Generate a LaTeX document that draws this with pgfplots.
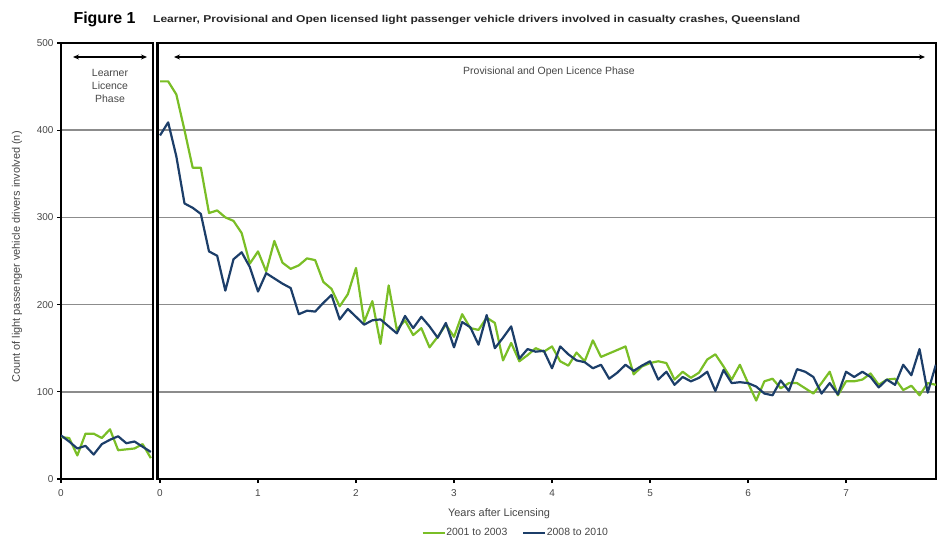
\documentclass[border=0pt]{standalone}
\usepackage{pgfplots}
\usepackage{pgfplotstable}
\pgfplotsset{compat=1.18}
\usepackage{fontspec}
\setmainfont{Liberation Sans}
\usepackage{graphicx}
\usetikzlibrary{arrows.meta}
\definecolor{gA}{RGB}{122,190,38}
\definecolor{bA}{RGB}{28,62,105}
\definecolor{txt}{RGB}{70,70,70}
\definecolor{grd}{RGB}{140,140,140}

\pgfplotstableread{
m g b
0 48 50
1 47 43
2 27 35
3 52 38
4 52 28
5 47 40
6 57 45
7 33 49
8 34 41
9 35 43
10 40 37
11 24 31
}\learner

\pgfplotstableread{
m g b
0 456 394
1 456 409
2 441 370
3 400 316
4 357 311
5 357 304
6 305 261
7 308 256
8 300 216
9 296 252
10 282 260
11 247 243
12 261 215
13 238 236
14 273 230
15 248 224
16 241 219
17 245 189
18 253 193
19 251 192
20 226 202
21 218 211
22 198 183
23 212 195
24 242 186
25 180 177
26 204 182
27 155 183
28 222 175
29 171 167
30 182 187
31 165 173
32 173 186
33 151 175
34 163 162
35 177 179
36 163 151
37 189 180
38 173 174
39 171 154
40 185 188
41 179 150
42 136 162
43 156 175
44 135 138
45 142 149
46 150 146
47 146 147
48 152 127
49 135 152
50 130 143
51 145 136
52 135 134
53 159 127
54 140 131
55 144 115
56 148 122
57 152 131
58 120 124
59 129 130
60 133 135
61 135 114
62 133 123
63 114 108
64 123 117
65 116 112
66 122 116
67 137 123
68 143 101
69 129 125
70 114 110
71 131 111
72 110 110
73 90 106
74 112 98
75 115 96
76 104 113
77 110 101
78 110 126
79 104 123
80 98 117
81 110 98
82 123 110
83 96 97
84 112 123
85 112 117
86 114 123
87 121 117
88 108 105
89 114 114
90 115 108
91 102 131
92 107 119
93 96 149
94 110 99
95 108 131
}\open

\pgfplotsset{
  panel/.style={
    scale only axis, anchor=south west,
    height=436bp,
    ymin=0, ymax=500, ytick={0,100,...,500},
    ymajorgrids, grid style={color=grd, line width=1.6bp},
    axis line style={line width=2.2bp, black},
    tick align=outside, major tick length=4bp,
    tick style={black, line width=1.2bp},
    xtick pos=bottom, ytick pos=left,
    tick label style={font=\fontsize{10}{12}\selectfont, text=txt},
    xticklabel style={yshift=-3bp},
    /pgf/number format/assume math mode=true,
    every axis plot/.append style={line width=2.2bp, line join=round, mark=none},
  }
}

\begin{document}
\begin{tikzpicture}
\useasboundingbox (0,0) rectangle (944bp,541bp);

% Learner panel
\begin{axis}[panel, at={(61bp,62bp)}, width=92bp,
  xmin=0, xmax=0.939, xtick={0}]
  \addplot[gA] table[x expr=\thisrow{m}/12, y=g] {\learner};
  \addplot[bA] table[x expr=\thisrow{m}/12, y=b] {\learner};
\end{axis}

% Provisional / open panel
\begin{axis}[panel, at={(157.5bp,62bp)}, width=778.5bp,
  xmin=-0.0255, xmax=7.918, xtick={0,1,...,7},
  yticklabels={}, ytick style={draw=none},
  legend style={at={(axis description cs:0.459,-0.124)}, anchor=center,
    draw=none, fill=none, legend columns=2,
    font=\fontsize{10.5}{12}\selectfont, text=txt,
    /tikz/every even column/.append style={column sep=14bp},
    nodes={inner sep=0.5bp}},
  legend image code/.code={\draw[#1, line width=2.5bp] (0bp,0bp) -- (22bp,0bp);}]
  \addplot[gA] table[x expr=\thisrow{m}/12, y=g] {\open};
  \addlegendentry{2001 to 2003}
  \addplot[bA] table[x expr=\thisrow{m}/12, y=b] {\open};
  \addlegendentry{2008 to 2010}
\end{axis}

% titles
\node[anchor=base west, font=\fontsize{16}{18}\selectfont\bfseries] at (70bp,517bp) {Figure 1};
\node[anchor=base west, inner sep=0pt, font=\fontsize{10}{12}\selectfont\bfseries, text=black!85] at (153bp,518bp)
  {\resizebox{647bp}{\height}{Learner, Provisional and Open licensed light passenger vehicle drivers involved in casualty crashes, Queensland}};

% axis labels
\node[rotate=90, font=\fontsize{11}{13}\selectfont, text=txt] at (17bp,284bp) {Count of light passenger vehicle drivers involved (n)};
\node[font=\fontsize{11}{13}\selectfont, text=txt] at (499bp,27bp) {Years after Licensing};

% phase annotations
\draw[{Stealth[length=6bp,width=5bp]}-{Stealth[length=6bp,width=5bp]}, line width=1.3bp] (73bp,484bp) -- (147bp,484bp);
\draw[{Stealth[length=6bp,width=5bp]}-{Stealth[length=6bp,width=5bp]}, line width=1.3bp] (174bp,484bp) -- (925bp,484bp);
\node[align=center, font=\fontsize{10.5}{13.5}\selectfont, text=txt] at (110bp,455bp) {Learner\\Licence\\Phase};
\node[font=\fontsize{10.5}{12}\selectfont, text=txt] at (549bp,469bp) {Provisional and Open Licence Phase};
\end{tikzpicture}
\end{document}
